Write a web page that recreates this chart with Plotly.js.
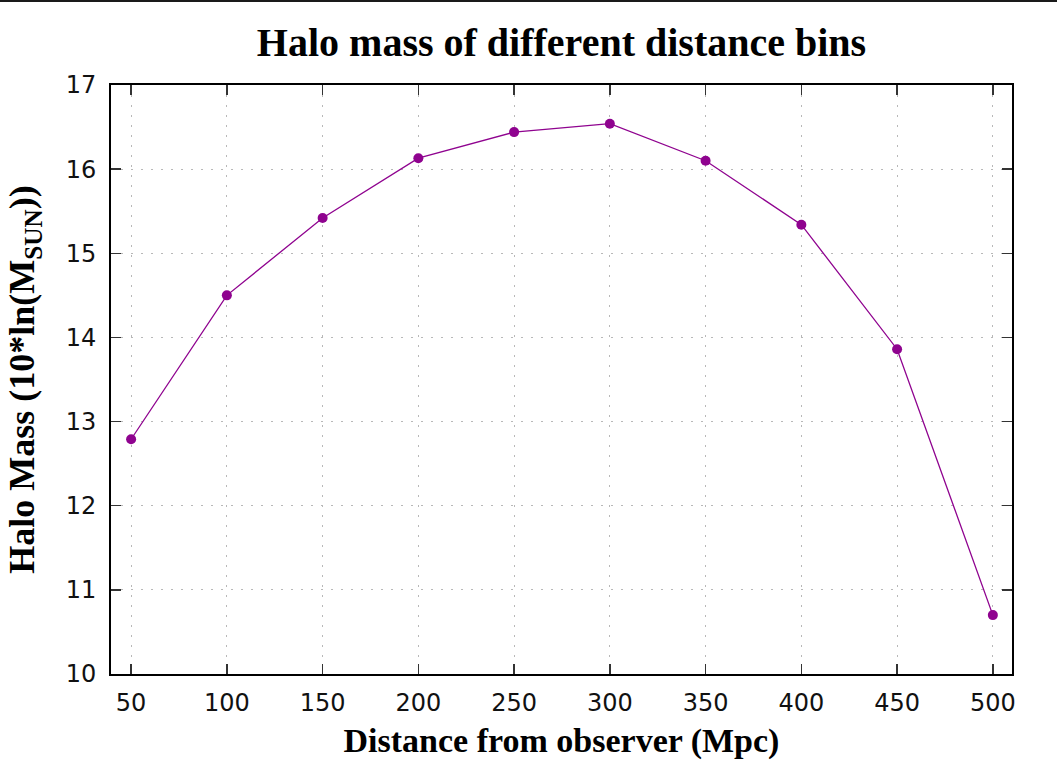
<!DOCTYPE html>
<html>
<head>
<meta charset="utf-8">
<script src="https://cdn.plot.ly/plotly-3.0.1.min.js"></script>
<style>
html,body{margin:0;padding:0;background:#fff;}
#topline{position:absolute;left:0;top:0;width:1057px;height:2px;background:#1a1a1a;z-index:10;}
#chart{width:1057px;height:760px;}
</style>
</head>
<body>
<div id="topline"></div>
<div id="chart"></div>
<script>
const distances = [50, 100, 150, 200, 250, 300, 350, 400, 450, 500];
const haloMass = [12.79, 14.50, 15.42, 16.13, 16.44, 16.54, 16.10, 15.34, 13.86, 10.70];
const xTicks = [50, 100, 150, 200, 250, 300, 350, 400, 450, 500];
const yTicks = [10, 11, 12, 13, 14, 15, 16, 17];

const trace = {
  x: distances,
  y: haloMass,
  type: 'scatter',
  mode: 'lines+markers',
  line: {color: '#8f038f', width: 1.3},
  marker: {color: '#8f038f', size: 10},
  showlegend: false,
  hoverinfo: 'x+y'
};

const axisCommon = {
  showline: true,
  linecolor: '#000',
  linewidth: 2,
  mirror: 'allticks',
  ticks: 'inside',
  ticklen: 10,
  tickwidth: 1.5,
  tickcolor: '#333',
  showgrid: true,
  gridcolor: '#b8b8b8',
  gridwidth: 1,
  griddash: '2px,8px',
  zeroline: false,
  tickfont: {family: 'DejaVu Sans, sans-serif', size: 24, color: '#111'}
};

const layout = {
  width: 1057,
  height: 760,
  margin: {l: 111, r: 45, t: 85, b: 86},
  paper_bgcolor: '#fff',
  plot_bgcolor: '#fff',
  title: {
    text: 'Halo mass of different distance bins',
    font: {family: 'Liberation Serif, Times New Roman, serif', size: 40, color: '#000', weight: 'bold'},
    x: 0.5, xref: 'paper', xanchor: 'center',
    y: 0.945, yref: 'container', yanchor: 'middle'
  },
  xaxis: Object.assign({}, axisCommon, {
    range: [39.5, 510],
    tickvals: xTicks,
    ticktext: xTicks.map(String),
    ticklabelstandoff: 6,
    title: {text: '<b>Distance from observer (Mpc)</b>', font: {family: 'Liberation Serif, Times New Roman, serif', size: 34, color: '#000'}, standoff: 12}
  }),
  yaxis: Object.assign({}, axisCommon, {
    range: [10, 17],
    tickvals: yTicks,
    ticktext: yTicks.map(String),
    ticklabelstandoff: 8,
    title: {text: '<b>Halo Mass (10*ln(M<sub>SUN</sub>))</b>', font: {family: 'Liberation Serif, Times New Roman, serif', size: 36, color: '#000'}, standoff: 20}
  })
};

Plotly.newPlot('chart', [trace], layout, {displayModeBar: false, staticPlot: true});
</script>
</body>
</html>
